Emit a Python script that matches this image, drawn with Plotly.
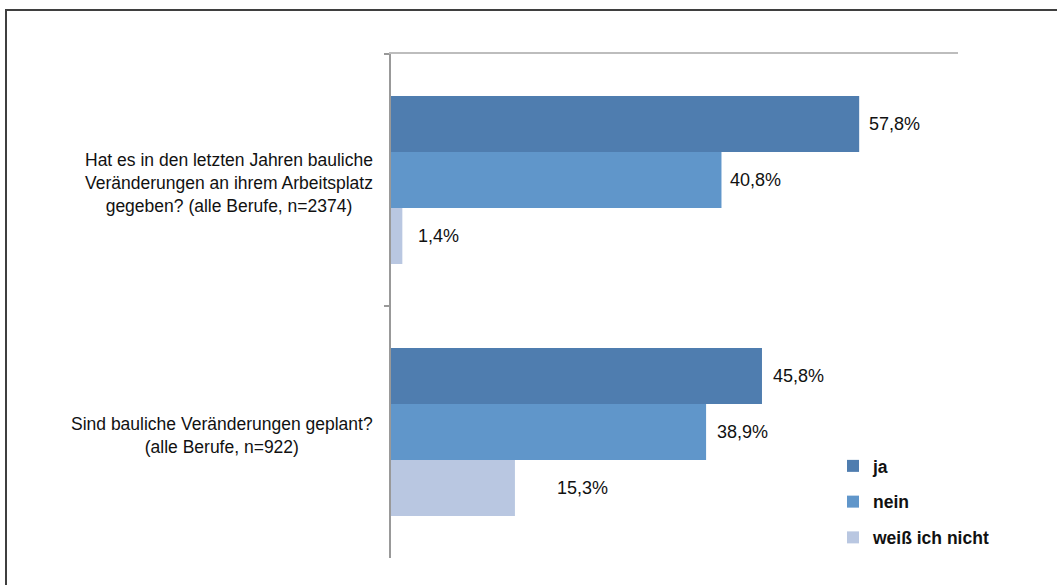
import plotly.graph_objects as go

categories = [
    "Hat es in den letzten Jahren bauliche<br>Veränderungen an ihrem Arbeitsplatz<br>gegeben? (alle Berufe, n=2374)",
    "Sind bauliche Veränderungen geplant?<br>(alle Berufe, n=922)",
]
series_names = ["ja", "nein", "weiß ich nicht"]
ja_values = [57.8, 45.8]
nein_values = [40.8, 38.9]
weiss_values = [1.4, 15.3]

series_values = [ja_values, nein_values, weiss_values]
colors = ["#4F7DAF", "#6096CA", "#B9C7E1"]
# extra horizontal pixel offset of the value labels (style only)
label_shift = [[8, 9], [7, 9], [14, 40]]

FONT = "Liberation Sans, Arial, sans-serif"

fig = go.Figure()
for name, vals, col in zip(series_names, series_values, colors):
    fig.add_trace(go.Bar(
        y=categories, x=vals, name=name, orientation="h",
        marker=dict(color=col, line=dict(width=0)),
        legendgroup=name, hoverinfo="skip",
    ))

n_series = len(series_names)
bargap = 1 / 3
bar_w = (1 - bargap) / n_series
annotations = []
for j, vals in enumerate(series_values):
    for i, v in enumerate(vals):
        annotations.append(dict(
            x=v, y=i + (j - (n_series - 1) / 2) * bar_w,
            xref="x", yref="y",
            text=f"{v:.1f}".replace(".", ",") + "%",
            showarrow=False, xanchor="left", yanchor="middle",
            xshift=label_shift[j][i],
            font=dict(family=FONT, size=18, color="#111111"),
        ))
for i, cat in enumerate(categories):
    annotations.append(dict(
        x=-0.028, y=i, xref="paper", yref="y",
        text=cat, showarrow=False, xanchor="right", yanchor="middle",
        align="center", yshift=-3,
        font=dict(family=FONT, size=17.5, color="#111111"),
    ))

W, H = 1057, 585
ml, mr, mt, mb = 391, 99, 54, 27
pw, ph = W - ml - mr, H - mt - mb

fig.update_layout(
    width=W, height=H,
    margin=dict(l=ml, r=mr, t=mt, b=mb, pad=0),
    paper_bgcolor="white", plot_bgcolor="white",
    barmode="group", bargap=bargap, bargroupgap=0,
    font=dict(family=FONT, size=17.5, color="#111111"),
    xaxis=dict(range=[0, 70], side="top", showline=True, linecolor="#BDBDBD",
               linewidth=2, showgrid=False, zeroline=False, showticklabels=False,
               ticks=""),
    yaxis=dict(autorange="reversed", showline=True, linecolor="#999999",
               linewidth=1.5, showgrid=False, zeroline=False, showticklabels=False,
               ticks="outside", ticklen=5, tickcolor="#999999", tickwidth=1.5,
               tickson="boundaries"),
    showlegend=True,
    legend=dict(x=(833 - ml) / pw, y=(H - mb - 448) / ph, xanchor="left", yanchor="top",
                traceorder="grouped", tracegroupgap=10,
                font=dict(family=FONT, size=17.5, color="#111111", weight="bold"),
                bgcolor="rgba(0,0,0,0)", itemclick=False),
    annotations=annotations,
    shapes=[dict(type="rect", xref="paper", yref="paper",
                 x0=(6 - ml) / pw, x1=(W + 20 - ml) / pw,
                 y0=(H - mb - (H + 20)) / ph, y1=(H - mb - 10) / ph,
                 line=dict(color="#3F3F3F", width=2), layer="below")],
)

fig.write_html(
    "out.html",
    config={"displayModeBar": False},
    post_script="document.body.style.margin='0';document.body.style.overflow='hidden';",
)
